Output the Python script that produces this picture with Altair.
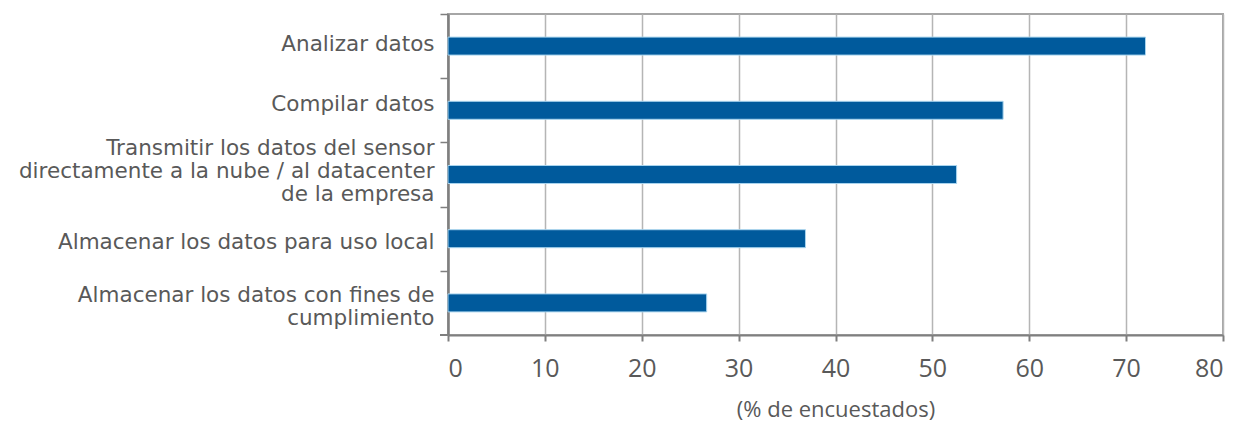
import altair as alt
import pandas as pd

# Survey answers (one bar each), top to bottom; "|" marks a line break in the label
categories = [
    "Analizar datos",
    "Compilar datos",
    "Transmitir los datos del sensor|directamente a la nube / al datacenter|de la empresa",
    "Almacenar los datos para uso local",
    "Almacenar los datos con fines de|cumplimiento",
]
percentages = [72.0, 57.3, 52.5, 36.9, 26.7]
x_ticks = [0, 10, 20, 30, 40, 50, 60, 70, 80]

df = pd.DataFrame({"categoria": categories, "porcentaje": percentages})

label_grey = "#595959"
axis_grey = "#7f7f7f"
plot_w, plot_h = 775, 321
band_step = plot_h / len(categories)
half = band_step / 2  # ticks sit on band edges; labels are moved back to centres

# multi-line labels start at the band centre; shift them up so they sit centred
label_shift = {
    "condition": [
        {"test": "indexof(datum.label, 'Transmitir') >= 0", "value": half - 26},
        {"test": "indexof(datum.label, 'cumplimiento') >= 0", "value": half - 7},
        {"test": "indexof(datum.label, 'Compilar') >= 0", "value": half - 6},
        {"test": "indexof(datum.label, 'uso local') >= 0", "value": half + 4},
    ],
    "value": half - 2,
}

bars = (
    alt.Chart(df)
    .mark_bar(color="#005a9c", stroke="#a8d4ee", strokeWidth=1)
    .encode(
        x=alt.X(
            "porcentaje:Q",
            scale=alt.Scale(domain=[0, 80], nice=False),
            axis=alt.Axis(
                values=x_ticks,
                title="(% de encuestados)",
                grid=True,
                gridColor="#b5b5b5",
                gridWidth=1.5,
                domainColor=axis_grey,
                domainWidth=2,
                tickColor=axis_grey,
                tickWidth=2,
                tickSize=6,
                labelFont="Open Sans",
                labelFontSize=25,
                labelColor=label_grey,
                labelPadding=15,
                titleFont="Open Sans",
                titleFontSize=22,
                titleFontWeight="normal",
                titleColor=label_grey,
                titlePadding=18,
            ),
        ),
        y=alt.Y(
            "categoria:N",
            sort=categories,
            scale=alt.Scale(paddingInner=0.72, paddingOuter=0.36),
            axis=alt.Axis(
                title=None,
                labelExpr="split(datum.label, '|')",
                labelFont="DejaVu Sans",
                labelFontSize=21.5,
                labelColor=label_grey,
                labelLineHeight=23,
                labelPadding=6,
                labelLimit=445,
                labelOffset=label_shift,
                tickOffset=-half,
                tickSize=8,
                tickColor=axis_grey,
                tickWidth=1.5,
                domainColor=axis_grey,
                domainWidth=2.5,
                grid=False,
            ),
        ),
    )
)

# closing category tick at the bottom-left corner
end_tick = (
    alt.Chart(df)
    .mark_rule(color=axis_grey, strokeWidth=1.5)
    .encode(x=alt.value(-8), x2=alt.value(0), y=alt.value(plot_h))
)

chart = (
    alt.layer(bars, end_tick)
    .properties(
        width=plot_w,
        height=plot_h,
        autosize=alt.AutoSizeParams(type="none"),
        padding={"left": 448, "top": 14, "right": 18, "bottom": 88},
        background="white",
    )
    .configure_view(stroke="#a6a6a6", strokeWidth=2)
)

chart.save("out.html", embed_options={"renderer": "svg", "actions": False})
